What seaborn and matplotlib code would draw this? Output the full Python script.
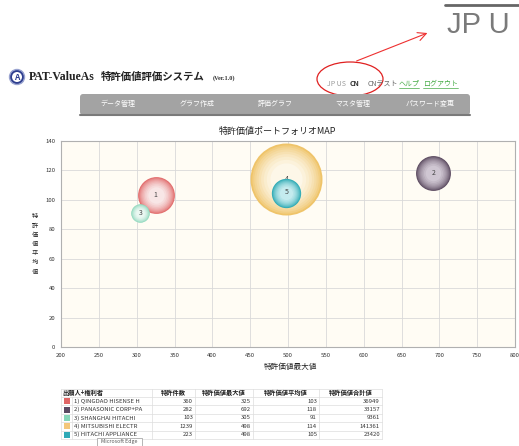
import matplotlib
matplotlib.use("Agg")
import matplotlib.pyplot as plt
from matplotlib.patches import Rectangle, Ellipse, FancyBboxPatch, FancyArrowPatch, Circle
from matplotlib.colors import to_rgb
import seaborn as sns
import numpy as np
import pandas as pd

# table / bubble data
bubble_ids = ["1", "2", "3", "4", "5"]
applicants = ["QINGDAO HISENSE H", "PANASONIC CORP+PA", "SHANGHAI HITACHI",
              "MITSUBISHI ELECTR", "HITACHI APPLIANCE"]
patent_count = [360, 282, 103, 1239, 223]
value_max = [325, 692, 305, 498, 498]
value_mean = [103, 118, 91, 114, 105]
value_total = [36949, 33157, 9361, 141361, 23420]

rim_colors = ["#e26d6d", "#5e4d62", "#8fd8bd", "#efc46a", "#2eaab4"]
center_colors = ["#f8e6e6", "#cfc6d2", "#eaf8f2", "#fdf7e8", "#c4ebee"]
legend_colors = ["#e06666", "#5b4a63", "#86d6b8", "#f4c77a", "#2fa9b6"]

x_ticks = list(range(200, 801, 50))
y_ticks = list(range(0, 141, 20))

nav_items = ["データ管理", "グラフ作成", "評価グラフ", "マスタ管理", "パスワード変更"]
table_headers = ["出願人+権利者", "特許件数", "特許価値最大値", "特許価値平均値", "特許価値合計値"]

df = pd.DataFrame({
    "id": bubble_ids,
    "max": value_max,
    "mean": value_mean,
    "total": value_total,
})

sns.set_style("white")
plt.rcParams["font.family"] = ["Noto Sans CJK JP", "DejaVu Sans"]

fig = plt.figure(figsize=(5.19, 4.46), dpi=100)
fig.patch.set_facecolor("white")

# page overlay in pixel coordinates
page = fig.add_axes([0, 0, 1, 1], zorder=0)
page.set_xlim(0, 519)
page.set_ylim(446, 0)
page.axis("off")

# top-right zoomed "JP U"
page.plot([445, 519], [5, 5], color="#666666", lw=2)
page.text(447, 25, "JP U", fontsize=21, color="#7a7a7a", va="center", ha="left",
          family=["Liberation Sans", "DejaVu Sans"])

# header
page.add_patch(Circle((17, 77), 7.5, facecolor="#2f3f8f", edgecolor="#9aa4d0", lw=1))
page.add_patch(Circle((17, 77), 5, facecolor="white", edgecolor="none"))
page.text(17, 77.5, "A", fontsize=6, color="#2f3f8f", ha="center", va="center", weight="bold")
page.text(29, 77, "PAT-ValueAs", fontsize=8.5, weight="bold", va="center",
          family=["Liberation Serif", "DejaVu Serif"], color="#222222")
page.text(101, 77, "特許価値評価システム", fontsize=7.5, weight="bold", va="center", color="#222222")
page.text(213, 78, "(Ver.1.0)", fontsize=4.5, weight="bold", va="center",
          family=["Liberation Serif", "DejaVu Serif"], color="#333333")

page.text(327, 84, "JP US", fontsize=5, color="#999999", va="center")
page.text(350, 84, "CN", fontsize=5, color="#333333", weight="bold", va="center")
page.text(368, 84, "CNテスト", fontsize=5, color="#666666", va="center")
page.text(399, 84, "ヘルプ", fontsize=5, color="#44aa44", va="center")
page.text(423, 84, "ログアウト", fontsize=5, color="#44aa44", va="center")
page.plot([399, 419], [88, 88], color="#44aa44", lw=0.5)
page.plot([423, 458], [88, 88], color="#44aa44", lw=0.5)

page.add_patch(Ellipse((350, 79), 66, 34, fill=False, edgecolor="#e02020", lw=0.9))
page.add_patch(FancyArrowPatch((354, 62), (430, 32), arrowstyle="->,head_length=6,head_width=3",
                               color="#ee3030", lw=0.8))

# nav bar
page.add_patch(FancyBboxPatch((80, 94), 390, 21, boxstyle="round,pad=0,rounding_size=3",
                              facecolor="#a3a3a3", edgecolor="none"))
page.plot([80, 470], [115, 115], color="#7a7a7a", lw=1.5)
for cx, item in zip([118, 197, 275, 353, 430], nav_items):
    page.text(cx, 104, item, fontsize=5, color="white", ha="center", va="center")

# chart
ax = fig.add_axes([61 / 519, 1 - 347 / 446, 454 / 519, 206 / 446], zorder=2)
ax.set_facecolor("#fffcf4")
ax.set_xlim(200, 800)
ax.set_ylim(0, 140)
ax.set_xticks(x_ticks)
ax.set_yticks(y_ticks)
ax.tick_params(labelsize=4.3, length=2, pad=2, colors="#333333")
ax.grid(True, color="#d9d9d9", lw=0.6)
for sp in ax.spines.values():
    sp.set_color("#b0b0b0")
    sp.set_linewidth(0.8)

size_scale = 2687 / max(value_total)
n_layers = 9
order = np.argsort(value_total)[::-1]
z = 3
for i in order:
    sub = df.iloc[[i]]
    base_s = value_total[i] * size_scale
    rim = np.array(to_rgb(rim_colors[i]))
    ctr = np.array(to_rgb(center_colors[i]))
    for k in range(n_layers):
        t = k / (n_layers - 1)
        frac = 1 - 0.8 * t
        col = rim * (1 - t ** 0.8) + ctr * t ** 0.8
        sns.scatterplot(data=sub, x="max", y="mean", s=base_s * frac, color=col,
                        linewidth=0, ax=ax, legend=False, zorder=z)
        z += 1
    ax.text(value_max[i], value_mean[i], bubble_ids[i], fontsize=5, color="#444444",
            ha="center", va="center", zorder=z)
    z += 1
ax.set_xlabel("")
ax.set_ylabel("")

page.text(277, 131, "特許価値ポートフォリオMAP", fontsize=6.5, ha="center", va="center", color="#222222")
page.text(290, 367, "特許価値最大値", fontsize=5.5, ha="center", va="center", color="#222222")
page.text(35, 244, "\n".join("特許価値平均値"), fontsize=4.5, ha="center", va="center",
          linespacing=1.2, color="#222222")

# table
col_edges = [61, 72, 152, 195, 253, 319, 382]
row_top = 388.5
row_h = 8.4
n_rows = len(applicants) + 1
for r in range(n_rows + 1):
    yy = row_top + r * row_h
    page.plot([col_edges[0], col_edges[-1]], [yy, yy], color="#dddddd", lw=0.5)
for j, xx in enumerate(col_edges):
    y0 = row_top + (row_h if j == 1 else 0)
    page.plot([xx, xx], [y0, row_top + n_rows * row_h], color="#dddddd", lw=0.5)

hy = row_top + row_h / 2
page.text(col_edges[0] + 1, hy, table_headers[0], fontsize=4.5, va="center", color="#222222",
          weight="bold")
for j, h in enumerate(table_headers[1:]):
    cx = (col_edges[j + 2] + col_edges[j + 3]) / 2
    page.text(cx, hy, h, fontsize=4.5, va="center", ha="center", color="#222222", weight="bold")

for r in range(len(applicants)):
    cy = row_top + (r + 1.5) * row_h
    page.add_patch(Rectangle((63.5, cy - 3), 6, 6, facecolor=legend_colors[r], edgecolor="none"))
    page.text(col_edges[1] + 2, cy, f"{bubble_ids[r]}) {applicants[r]}", fontsize=4.3,
              va="center", color="#333333")
    vals = [patent_count[r], value_max[r], value_mean[r], value_total[r]]
    for j, v in enumerate(vals):
        page.text(col_edges[j + 3] - 2, cy, str(v), fontsize=4.3, va="center", ha="right",
                  color="#333333")

# tooltip
page.add_patch(Rectangle((97, 437.5), 45, 8, facecolor="white", edgecolor="#999999", lw=0.5,
                         zorder=5))
page.text(119.5, 441.5, "Microsoft Edge", fontsize=3.8, ha="center", va="center",
          color="#555555", zorder=6)

fig.savefig("out.png", dpi=100)
